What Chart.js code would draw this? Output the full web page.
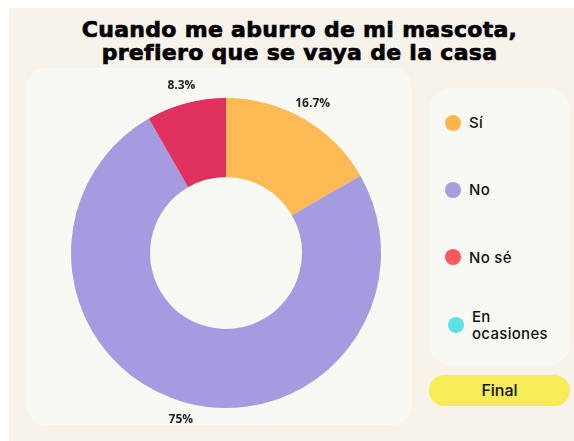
<!DOCTYPE html>
<html>
<head>
<meta charset="utf-8">
<script src="https://cdn.jsdelivr.net/npm/chart.js@4"></script>
<style>
  html, body { margin:0; padding:0; width:574px; height:441px; background:#ffffff; overflow:hidden; }
  #bg { position:absolute; left:9px; top:8px; right:0; bottom:0; background:#f8f3ea; }
  #title { position:absolute; left:25px; right:0; top:18px; text-align:center; font-family:"DejaVu Sans", sans-serif; font-weight:bold; font-size:22px; line-height:23px; color:#000; letter-spacing:0.3px; -webkit-text-stroke:0.7px #000; }
  #panel { position:absolute; left:27px; top:68px; width:385px; height:357px; background:#f9f9f4; border-radius:20px; }
  #chartBox { position:absolute; left:27px; top:68px; width:385px; height:357px; }
  #legendPanel { position:absolute; left:429px; top:88px; width:141px; height:277px; background:#f9f9f4; border-radius:22px; }
  .item { position:absolute; left:16px; display:flex; align-items:center; font-family:Inter, "Open Sans", sans-serif; font-weight:500; font-size:15px; line-height:17px; color:#111; }
  .dot { width:16px; height:16px; border-radius:50%; margin-right:8px; flex:none; }
  .lbl { max-width:92px; letter-spacing:0.3px; }
  #final { position:absolute; left:429px; top:375px; width:141px; height:31px; background:#f5ec58; border-radius:16px; font-family:Inter, "Open Sans", sans-serif; font-weight:500; font-size:16px; line-height:31px; text-align:center; color:#111; }
</style>
</head>
<body>
<div id="bg"></div>
<div id="title">Cuando me aburro de mi mascota,<br>prefiero que se vaya de la casa</div>
<div id="panel"></div>
<div id="chartBox"><canvas id="c" width="385" height="357"></canvas></div>
<div id="legendPanel"></div>
<div id="final">Final</div>
<script>
const categories = ['Sí', 'No', 'No sé', 'En ocasiones'];
const values = [16.7, 75, 8.3, 0];
const sliceColors = ['#ffb955', '#a59be0', '#e0305e', '#5ce1e6'];
const legendColors = ['#ffb54f', '#a79ee0', '#ff5660', '#5ce1e6'];

// HTML legend built from the arrays
const lp = document.getElementById('legendPanel');
categories.forEach((cat, i) => {
  const it = document.createElement('div');
  it.className = 'item';
  const d = document.createElement('div');
  d.className = 'dot';
  d.style.background = legendColors[i];
  const t = document.createElement('div');
  t.className = 'lbl';
  t.textContent = cat;
  it.appendChild(d); it.appendChild(t);
  lp.appendChild(it);
  const centerY = 35 + i * 67.4;
  it.style.top = (centerY - (i === 3 ? 17 : 9)) + 'px';
  if (i === 3) it.style.left = '19px';
});

const outsideLabels = {
  id: 'outsideLabels',
  afterDatasetsDraw(chart) {
    const ctx = chart.ctx;
    const meta = chart.getDatasetMeta(0);
    ctx.save();
    ctx.font = 'bold 12px "Open Sans", "DejaVu Sans", sans-serif';
    ctx.fillStyle = '#222';
    ctx.textAlign = 'center';
    ctx.textBaseline = 'middle';
    meta.data.forEach((arc, i) => {
      const v = values[i];
      if (!v) return;
      const p = arc.getProps(['x', 'y', 'startAngle', 'endAngle', 'outerRadius'], true);
      const a = (p.startAngle + p.endAngle) / 2;
      const r = p.outerRadius + 18;
      ctx.fillText(v + '%', p.x + Math.cos(a) * r, p.y + Math.sin(a) * r);
    });
    ctx.restore();
  }
};

new Chart(document.getElementById('c'), {
  type: 'doughnut',
  data: {
    labels: categories,
    datasets: [{
      data: values,
      backgroundColor: sliceColors,
      borderWidth: 0,
      hoverOffset: 0
    }]
  },
  options: {
    responsive: false,
    animation: false,
    cutout: '49%',
    layout: { padding: { left: 44, right: 31, top: 30, bottom: 17 } },
    plugins: {
      legend: { display: false },
      tooltip: { enabled: false },
      title: { display: false }
    }
  },
  plugins: [outsideLabels]
});
</script>
</body>
</html>
